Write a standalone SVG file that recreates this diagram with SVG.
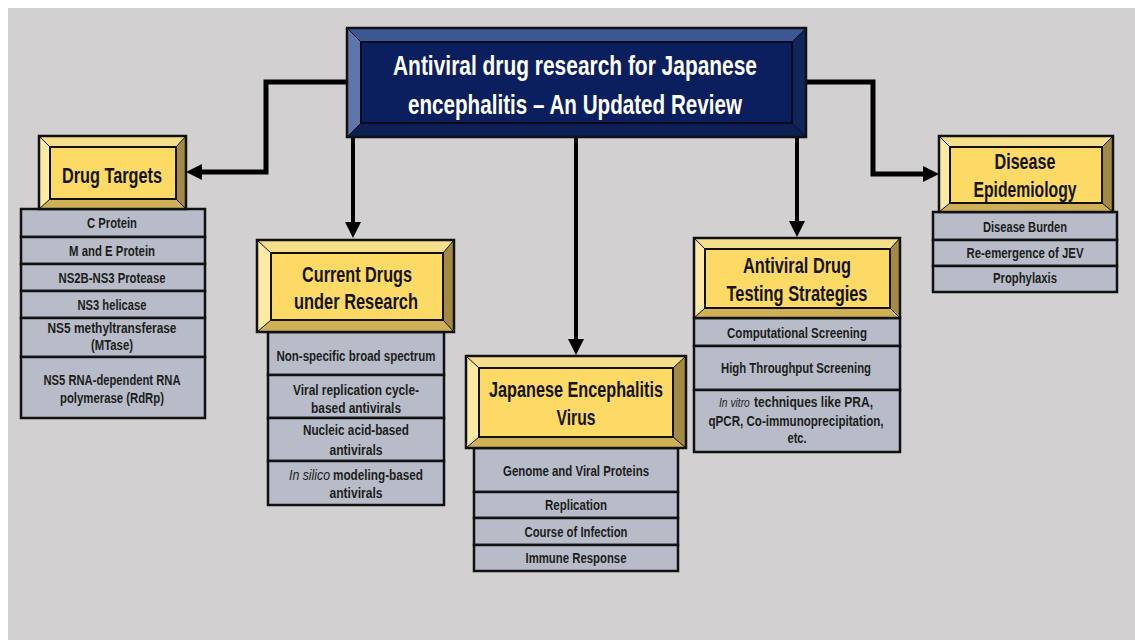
<svg xmlns="http://www.w3.org/2000/svg" width="1135" height="640" viewBox="0 0 1135 640">
<style>
.bg{fill:#d2d0d1}
.bt{fill:#f6df8c}.bl{fill:#fdeaa2}.br{fill:#a38a42}.bb{fill:#cfb057}
.in{fill:#fdd966;stroke:#111;stroke-width:2}
.out{fill:none;stroke:#111;stroke-width:2.5}
.dg{stroke:#111;stroke-width:1}
.row{fill:#b8bcc8;stroke:#111;stroke-width:2.5}
.t{font-family:"Liberation Sans",Arial,sans-serif;font-weight:bold;text-anchor:middle}
.s{text-anchor:start}
.h{font-size:22px;fill:#141414}
.i{font-size:14px;fill:#1c1c1c}
.it{font-style:italic;font-weight:normal}
.ti{font-size:28px;fill:#ffffff}
.con{fill:none;stroke:#000;stroke-linejoin:miter}
</style>
<defs>
<marker id="ah" markerUnits="userSpaceOnUse" markerWidth="16" markerHeight="16" refX="0" refY="8" orient="auto">
<path d="M0,0 L16,8 L0,16 Z" fill="#000"/>
</marker>
</defs>
<rect x="0" y="0" width="1135" height="640" fill="#ffffff"/>
<rect class="bg" x="8" y="8" width="1127" height="632"/>

<g id="connectors">
<path class="con" stroke-width="5" d="M349,82 H266 V172 H202" marker-end="url(#ah)"/>
<path class="con" stroke-width="5" d="M804,82 H873 V174 H923" marker-end="url(#ah)"/>
<path class="con" stroke-width="4" d="M353,137 V222" marker-end="url(#ah)"/>
<path class="con" stroke-width="4" d="M576,137 V339" marker-end="url(#ah)"/>
<path class="con" stroke-width="4" d="M797,137 V221" marker-end="url(#ah)"/>
</g>

<g id="title">
<polygon fill="#3d5795" points="347,28 806,28 792,42 361,42"/>
<polygon fill="#5f76ad" points="347,28 361,42 361,123 347,137"/>
<polygon fill="#112558" points="806,28 806,137 792,123 792,42"/>
<polygon fill="#0d1f55" points="347,137 361,123 792,123 806,137"/>
<rect x="361" y="42" width="431" height="81" fill="#0b1f5e" stroke="#0a0a1a" stroke-width="2"/>
<line class="dg" x1="347" y1="28" x2="361" y2="42"/><line class="dg" x1="806" y1="28" x2="792" y2="42"/>
<line class="dg" x1="347" y1="137" x2="361" y2="123"/><line class="dg" x1="806" y1="137" x2="792" y2="123"/>
<rect class="out" x="347" y="28" width="459" height="109"/>
<text class="t ti" x="575" y="75" textLength="364" lengthAdjust="spacingAndGlyphs">Antiviral drug research for Japanese</text>
<text class="t ti" x="575" y="114" textLength="334" lengthAdjust="spacingAndGlyphs">encephalitis – An Updated Review</text>
</g>

<g id="drug-targets">
<rect class="row" x="21" y="209" width="184" height="28"/>
<rect class="row" x="21" y="237" width="184" height="27"/>
<rect class="row" x="21" y="264" width="184" height="27"/>
<rect class="row" x="21" y="291" width="184" height="27"/>
<rect class="row" x="21" y="318" width="184" height="39"/>
<rect class="row" x="21" y="357" width="184" height="61"/>
<polygon class="bt" points="39,136 186,136 176,147 50,147"/>
<polygon class="bl" points="39,136 50,147 50,199 39,209"/>
<polygon class="br" points="186,136 186,209 176,199 176,147"/>
<polygon class="bb" points="39,209 50,199 176,199 186,209"/>
<rect class="in" x="50" y="147" width="126" height="52"/>
<line class="dg" x1="39" y1="136" x2="50" y2="147"/><line class="dg" x1="186" y1="136" x2="176" y2="147"/>
<line class="dg" x1="39" y1="209" x2="50" y2="199"/><line class="dg" x1="186" y1="209" x2="176" y2="199"/>
<rect class="out" x="39" y="136" width="147" height="73"/>
<text class="t h" x="112" y="183" font-size="23" textLength="100" lengthAdjust="spacingAndGlyphs">Drug Targets</text>
<text class="t i" x="112" y="228" textLength="50" lengthAdjust="spacingAndGlyphs">C Protein</text>
<text class="t i" x="112" y="256" textLength="86" lengthAdjust="spacingAndGlyphs">M and E Protein</text>
<text class="t i" x="112" y="283" textLength="107" lengthAdjust="spacingAndGlyphs">NS2B-NS3 Protease</text>
<text class="t i" x="112" y="310" textLength="69" lengthAdjust="spacingAndGlyphs">NS3 helicase</text>
<text class="t i" x="112" y="333" textLength="129" lengthAdjust="spacingAndGlyphs">NS5 methyltransferase</text>
<text class="t i" x="112" y="350" textLength="42" lengthAdjust="spacingAndGlyphs">(MTase)</text>
<text class="t i" x="112" y="385" textLength="137" lengthAdjust="spacingAndGlyphs">NS5 RNA-dependent RNA</text>
<text class="t i" x="112" y="403" textLength="104" lengthAdjust="spacingAndGlyphs">polymerase (RdRp)</text>
</g>

<g id="current-drugs">
<rect class="row" x="268" y="332" width="176" height="43"/>
<rect class="row" x="268" y="375" width="176" height="43"/>
<rect class="row" x="268" y="418" width="176" height="43"/>
<rect class="row" x="268" y="461" width="176" height="44"/>
<polygon class="bt" points="257,240 454,240 443,253 271,253"/>
<polygon class="bl" points="257,240 271,253 271,320 257,332"/>
<polygon class="br" points="454,240 454,332 443,320 443,253"/>
<polygon class="bb" points="257,332 271,320 443,320 454,332"/>
<rect class="in" x="271" y="253" width="172" height="67"/>
<line class="dg" x1="257" y1="240" x2="271" y2="253"/><line class="dg" x1="454" y1="240" x2="443" y2="253"/>
<line class="dg" x1="257" y1="332" x2="271" y2="320"/><line class="dg" x1="454" y1="332" x2="443" y2="320"/>
<rect class="out" x="257" y="240" width="197" height="92"/>
<text class="t h" x="357" y="282" textLength="110" lengthAdjust="spacingAndGlyphs">Current Drugs</text>
<text class="t h" x="356" y="309" textLength="124" lengthAdjust="spacingAndGlyphs">under Research</text>
<text class="t i" x="356" y="361" textLength="159" lengthAdjust="spacingAndGlyphs">Non-specific broad spectrum</text>
<text class="t i" x="356" y="395" textLength="126" lengthAdjust="spacingAndGlyphs">Viral replication cycle-</text>
<text class="t i" x="356" y="413" textLength="90" lengthAdjust="spacingAndGlyphs">based antivirals</text>
<text class="t i" x="356" y="435" textLength="106" lengthAdjust="spacingAndGlyphs">Nucleic acid-based</text>
<text class="t i" x="356" y="455" textLength="53" lengthAdjust="spacingAndGlyphs">antivirals</text>
<text class="t i s it" x="289" y="480" textLength="41" lengthAdjust="spacingAndGlyphs">In silico</text>
<text class="t i s" x="333" y="480" textLength="90" lengthAdjust="spacingAndGlyphs">modeling-based</text>
<text class="t i" x="356" y="498" textLength="53" lengthAdjust="spacingAndGlyphs">antivirals</text>
</g>

<g id="jev">
<rect class="row" x="474" y="448" width="204" height="44"/>
<rect class="row" x="474" y="492" width="204" height="26"/>
<rect class="row" x="474" y="518" width="204" height="27"/>
<rect class="row" x="474" y="545" width="204" height="26"/>
<polygon class="bt" points="466,356 686,356 673,368 479,368"/>
<polygon class="bl" points="466,356 479,368 479,437 466,448"/>
<polygon class="br" points="686,356 686,448 673,437 673,368"/>
<polygon class="bb" points="466,448 479,437 673,437 686,448"/>
<rect class="in" x="479" y="368" width="194" height="69"/>
<line class="dg" x1="466" y1="356" x2="479" y2="368"/><line class="dg" x1="686" y1="356" x2="673" y2="368"/>
<line class="dg" x1="466" y1="448" x2="479" y2="437"/><line class="dg" x1="686" y1="448" x2="673" y2="437"/>
<rect class="out" x="466" y="356" width="220" height="92"/>
<text class="t h" x="576" y="397" textLength="174" lengthAdjust="spacingAndGlyphs">Japanese Encephalitis</text>
<text class="t h" x="576" y="425" textLength="39" lengthAdjust="spacingAndGlyphs">Virus</text>
<text class="t i" x="576" y="476" textLength="146" lengthAdjust="spacingAndGlyphs">Genome and Viral Proteins</text>
<text class="t i" x="576" y="510" textLength="62" lengthAdjust="spacingAndGlyphs">Replication</text>
<text class="t i" x="576" y="537" textLength="103" lengthAdjust="spacingAndGlyphs">Course of Infection</text>
<text class="t i" x="576" y="563" textLength="101" lengthAdjust="spacingAndGlyphs">Immune Response</text>
</g>

<g id="testing-strategies">
<rect class="row" x="694" y="318" width="206" height="28"/>
<rect class="row" x="694" y="346" width="206" height="44"/>
<rect class="row" x="694" y="390" width="206" height="62"/>
<polygon class="bt" points="694,238 900,238 890,249 705,249"/>
<polygon class="bl" points="694,238 705,249 705,308 694,318"/>
<polygon class="br" points="900,238 900,318 890,308 890,249"/>
<polygon class="bb" points="694,318 705,308 890,308 900,318"/>
<rect class="in" x="705" y="249" width="185" height="59"/>
<line class="dg" x1="694" y1="238" x2="705" y2="249"/><line class="dg" x1="900" y1="238" x2="890" y2="249"/>
<line class="dg" x1="694" y1="318" x2="705" y2="308"/><line class="dg" x1="900" y1="318" x2="890" y2="308"/>
<rect class="out" x="694" y="238" width="206" height="80"/>
<text class="t h" x="797" y="273" textLength="108" lengthAdjust="spacingAndGlyphs">Antiviral Drug</text>
<text class="t h" x="797" y="301" textLength="141" lengthAdjust="spacingAndGlyphs">Testing Strategies</text>
<text class="t i" x="797" y="338" textLength="140" lengthAdjust="spacingAndGlyphs">Computational Screening</text>
<text class="t i" x="796" y="373" textLength="150" lengthAdjust="spacingAndGlyphs">High Throughput Screening</text>
<text class="t s it" font-size="12.5" fill="#1c1c1c" transform="translate(719,407) scale(0.82,1)" x="0" y="0">In vitro</text>
<text class="t i s" transform="translate(754,407) scale(0.86,1)" x="0" y="0">techniques like PRA,</text>
<text class="t i" x="796" y="426" textLength="175" lengthAdjust="spacingAndGlyphs">qPCR, Co-immunoprecipitation,</text>
<text class="t i" x="797" y="443" textLength="19" lengthAdjust="spacingAndGlyphs">etc.</text>
</g>

<g id="disease-epidemiology">
<rect class="row" x="933" y="212" width="184" height="28"/>
<rect class="row" x="933" y="240" width="184" height="26"/>
<rect class="row" x="933" y="266" width="184" height="26"/>
<polygon class="bt" points="939,136 1113,136 1102,147 950,147"/>
<polygon class="bl" points="939,136 950,147 950,203 939,212"/>
<polygon class="br" points="1113,136 1113,212 1102,203 1102,147"/>
<polygon class="bb" points="939,212 950,203 1102,203 1113,212"/>
<rect class="in" x="950" y="147" width="152" height="56"/>
<line class="dg" x1="939" y1="136" x2="950" y2="147"/><line class="dg" x1="1113" y1="136" x2="1102" y2="147"/>
<line class="dg" x1="939" y1="212" x2="950" y2="203"/><line class="dg" x1="1113" y1="212" x2="1102" y2="203"/>
<rect class="out" x="939" y="136" width="174" height="76"/>
<text class="t h" x="1025" y="169" textLength="61" lengthAdjust="spacingAndGlyphs">Disease</text>
<text class="t h" x="1025" y="197" textLength="103" lengthAdjust="spacingAndGlyphs">Epidemiology</text>
<text class="t i" x="1025" y="232" textLength="84" lengthAdjust="spacingAndGlyphs">Disease Burden</text>
<text class="t i" x="1025" y="258" textLength="117" lengthAdjust="spacingAndGlyphs">Re-emergence of JEV</text>
<text class="t i" x="1025" y="283" textLength="64" lengthAdjust="spacingAndGlyphs">Prophylaxis</text>
</g>
</svg>
